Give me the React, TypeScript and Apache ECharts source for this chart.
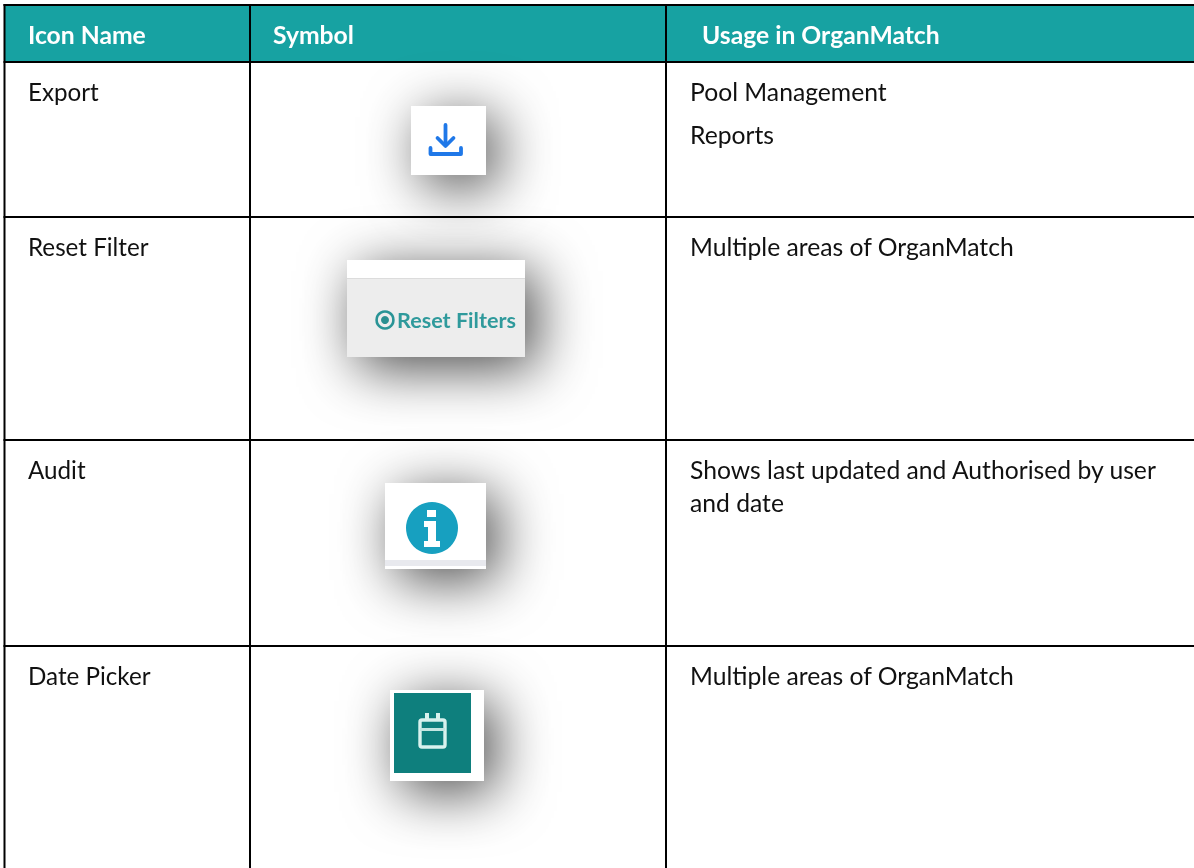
import React, { useEffect, useRef } from "react";
import * as echarts from "echarts";

const headers = ["Icon Name", "Symbol", "Usage in OrganMatch"];
const iconNames = ["Export", "Reset Filter", "Audit", "Date Picker"];
const usageLines = [
  ["Pool Management", "Reports"],
  ["Multiple areas of OrganMatch"],
  ["Shows last updated and Authorised by user", "and date"],
  ["Multiple areas of OrganMatch"],
];
const buttonLabel = "Reset Filters";

const FONT = "Lato, 'Open Sans', sans-serif";
const TEAL = "#17a2a2";
const SIZE = 24.7;
const NAME_SIZE = 24.2;
const rowTops = [62, 217, 440, 646];
const rowTextY = [91, 246, 469, 675];
const usageGap = [43.5, 0, 33, 0];

function shadowBox(x: number, y: number, w: number, h: number, fill: string) {
  return {
    type: "rect",
    shape: { x, y, width: w, height: h },
    style: { fill, shadowBlur: 56, shadowOffsetX: 11, shadowOffsetY: 11, shadowColor: "rgba(0,0,0,0.72)" },
  };
}
function rect(x: number, y: number, w: number, h: number, fill: string) {
  return { type: "rect", shape: { x, y, width: w, height: h }, style: { fill } };
}
function label(text: string, x: number, y: number, size: number, fill: string, weight: any = 400) {
  return {
    type: "text", x, y,
    style: { text, fill, font: `${weight} ${size}px ${FONT}`, textAlign: "left", textVerticalAlign: "middle" },
  };
}
function stroke(points: number[][], color: string, width: number) {
  return {
    type: "polyline",
    shape: { points },
    style: { stroke: color, lineWidth: width, fill: "none", lineCap: "round", lineJoin: "round" },
  };
}

export default function App() {
  const ref = useRef<HTMLDivElement>(null);
  useEffect(() => {
    const chart = echarts.init(ref.current!, null, { renderer: "svg" });
    const els: any[] = [];
    els.push(rect(0, 0, 1194, 868, "#ffffff"));
    els.push(rect(4, 5, 1190, 57, TEAL));
    // shadowed screenshots
    els.push(shadowBox(411, 106, 75, 69, "#ffffff"));
    els.push(stroke([[445.5, 125], [445.5, 145]], "#1f78e8", 3.8));
    els.push(stroke([[437.5, 138], [445.5, 146], [453.5, 138]], "#1f78e8", 3.8));
    els.push(stroke([[430.5, 148], [430.5, 154], [461, 154], [461, 148]], "#1f78e8", 3.8));

    els.push(shadowBox(347, 260, 178, 97, "#ededed"));
    els.push(rect(347, 260, 178, 18, "#ffffff"));
    els.push(rect(347, 278, 178, 1, "#dcdcdc"));
    els.push({ type: "circle", shape: { cx: 385, cy: 320, r: 8.4 }, style: { fill: "none", stroke: "#2a9496", lineWidth: 2.6 } });
    els.push({ type: "circle", shape: { cx: 385, cy: 320, r: 4 }, style: { fill: "#2a8f90" } });
    els.push(label(buttonLabel, 397, 319.5, 21.6, "#2f9a9c", 700));

    els.push(shadowBox(385, 483, 101, 86, "#ffffff"));
    els.push(rect(385, 560, 101, 6, "#e8e9ee"));
    els.push({ type: "circle", shape: { cx: 432, cy: 528, r: 26 }, style: { fill: "#17a0c0" } });
    els.push(rect(427, 510, 9, 7, "#ffffff"));
    els.push({ type: "polygon", shape: { points: [[424, 521], [436, 521], [436, 541], [440, 541], [440, 547], [424, 547], [424, 541], [428, 541], [428, 527], [424, 527]] }, style: { fill: "#ffffff" } });

    els.push(shadowBox(390, 690, 94, 91, "#ffffff"));
    els.push(rect(394, 693, 77, 80, "#0e7f7d"));
    els.push({ type: "rect", shape: { x: 420, y: 720, width: 25, height: 27, r: 2 }, style: { fill: "none", stroke: "#d8f2ee", lineWidth: 3.4 } });
    els.push(rect(420, 728, 25, 3, "#c4e6e2"));
    els.push(rect(425, 713, 4, 7, "#d8f2ee"));
    els.push(rect(436, 713, 4, 7, "#d8f2ee"));

    // grid lines
    els.push(rect(3.5, 4, 1190.5, 2, "#000000"));
    els.push(rect(3.5, 4, 2, 864, "#000000"));
    els.push(rect(249, 4, 2, 864, "#000000"));
    els.push(rect(665, 4, 2, 864, "#000000"));
    rowTops.forEach((y) => els.push(rect(3.5, y - 1, 1190.5, 2, "#000000")));

    // text
    els.push(label(headers[0], 28, 34, SIZE, "#ffffff", 700));
    els.push(label(headers[1], 273, 34, SIZE, "#ffffff", 700));
    els.push(label(headers[2], 702, 34, SIZE, "#ffffff", 700));
    iconNames.forEach((n, i) => els.push(label(n, 28, rowTextY[i], NAME_SIZE, "#111111")));
    usageLines.forEach((lines, i) =>
      lines.forEach((t, j) => els.push(label(t, 690, rowTextY[i] + j * usageGap[i], SIZE, "#111111")))
    );

    chart.setOption({ animation: false, graphic: { elements: els } });
    return () => chart.dispose();
  }, []);
  return <div ref={ref} style={{ position: "fixed", left: 0, top: 0, width: 1194, height: 868, fontVariantLigatures: "none" }} />;
}
